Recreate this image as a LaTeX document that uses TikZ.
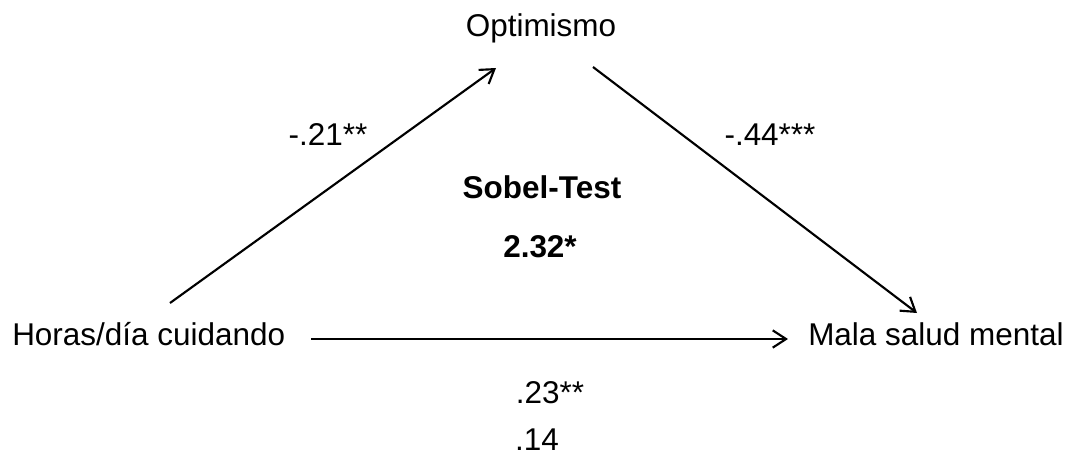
\documentclass[tikz,border=0pt]{standalone}
\usepackage{fontspec}
\setmainfont{Liberation Sans}
\usetikzlibrary{arrows.meta}
\begin{document}
\begin{tikzpicture}[x=0.75pt,y=-0.75pt,
  lbl/.style={anchor=base,inner sep=0pt,font=\fontsize{23.6}{28}\selectfont},
  blbl/.style={lbl,font=\fontsize{23.6}{28}\selectfont\bfseries},
  conn/.style={line width=1.6pt,-{Straight Barb[length=10pt,width=13pt,line width=1.6pt]}}]
\useasboundingbox (0,0) rectangle (1065,458);
\node[lbl] (opt) at (541,36) {Optimismo};
\node[lbl,anchor=base west] (hor) at (12,345) {Horas/día cuidando};
\node[lbl,anchor=base west] (mal) at (808,345) {Mala salud mental};
\node[lbl] (a) at (328,145) {-.21**};
\node[lbl] (b) at (770,145) {-.44***};
\node[blbl] (sob) at (542,198) {Sobel-Test};
\node[blbl] (sv) at (540,257) {2.32*};
\node[lbl] (c) at (550,403) {.23**};
\node[lbl] (d) at (537,450) {.14};
\coordinate (p1) at (170,303);
\coordinate (p2) at (496,68);
\coordinate (p3) at (593,67);
\coordinate (p4) at (917,313);
\coordinate (p5) at (311,339);
\coordinate (p6) at (788,339);
\draw[conn] (p1) -- (p2);
\draw[conn] (p3) -- (p4);
\draw[conn] (p5) -- (p6);
\end{tikzpicture}
\end{document}
